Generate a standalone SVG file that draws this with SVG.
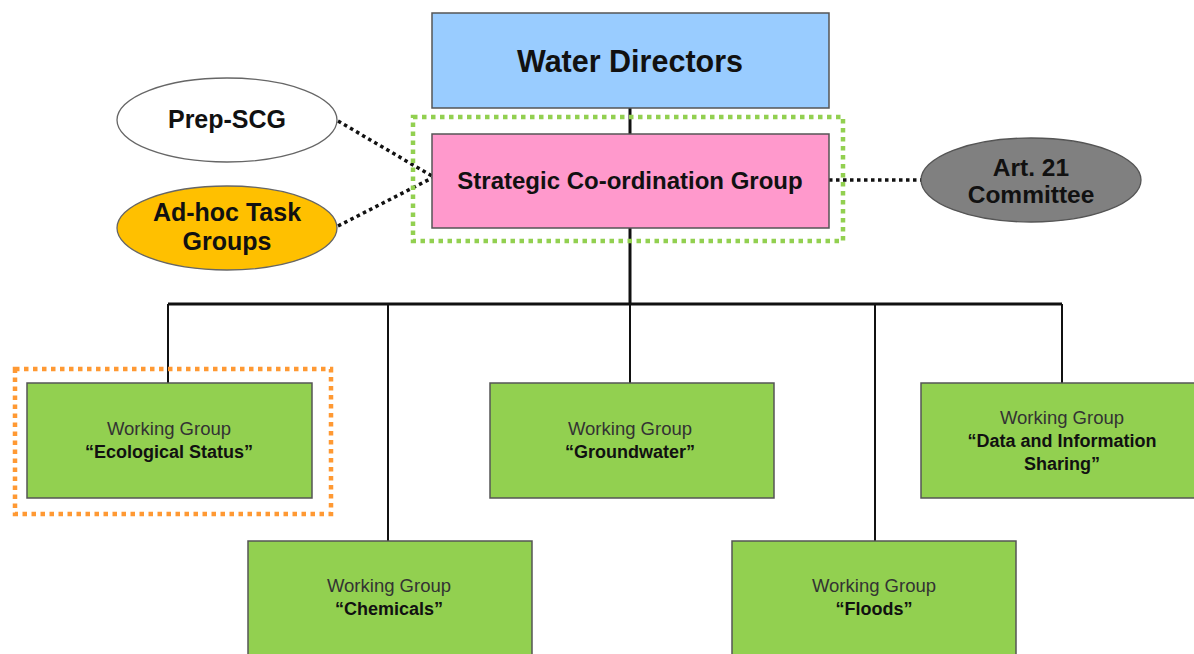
<svg xmlns="http://www.w3.org/2000/svg" width="1194" height="654" viewBox="0 0 1194 654">
<style>
.box{stroke:#555;stroke-width:1.5}
.wg{fill:#92D050;stroke:#555;stroke-width:1.5}
.t{font-family:"Liberation Sans",Arial,sans-serif;text-anchor:middle;fill:#111}
.b{font-weight:bold}
.wgl{font-size:18.5px;fill:#333}
.wgn{font-size:18px;font-weight:bold;fill:#111}
.line{stroke:#111;fill:none}
.dot{stroke:#111;stroke-width:3.5;stroke-dasharray:3.5 3.5;fill:none}
</style>
<rect width="1194" height="654" fill="#fff"/>
<g id="connectors">
<line class="line" x1="630" y1="108" x2="630" y2="134" stroke-width="3"/>
<line class="line" x1="630" y1="228" x2="630" y2="304" stroke-width="3"/>
<line class="line" x1="168" y1="304" x2="1062" y2="304" stroke-width="3"/>
<line class="line" x1="168" y1="304" x2="168" y2="383" stroke-width="2"/>
<line class="line" x1="388" y1="304" x2="388" y2="541" stroke-width="2"/>
<line class="line" x1="630" y1="304" x2="630" y2="383" stroke-width="2"/>
<line class="line" x1="875" y1="304" x2="875" y2="541" stroke-width="2"/>
<line class="line" x1="1062" y1="304" x2="1062" y2="383" stroke-width="2"/>
<line class="dot" x1="338" y1="121" x2="432" y2="176"/>
<line class="dot" x1="338" y1="226" x2="432" y2="178"/>
<line class="dot" x1="829" y1="180" x2="921" y2="180"/>
</g>
<g id="water-directors">
<rect class="box" x="432" y="13" width="397" height="95" fill="#99CCFF"/>
<text class="t b" x="630" y="72" font-size="30.5">Water Directors</text>
</g>
<g id="scg">
<rect class="box" x="432" y="134" width="397" height="94" fill="#FF99CC"/>
<text class="t b" x="630" y="189" font-size="24">Strategic Co-ordination Group</text>
</g>
<g id="scg-highlight">
<rect x="413" y="117" width="430" height="124" fill="none" stroke="#92D050" stroke-width="4.5" stroke-dasharray="4.5 4.5"/>
</g>
<g id="prep-scg">
<ellipse cx="227" cy="120" rx="110" ry="42" fill="#fff" stroke="#666" stroke-width="1.3"/>
<text class="t b" x="227" y="128" font-size="25">Prep-SCG</text>
</g>
<g id="adhoc">
<ellipse cx="227" cy="228" rx="110" ry="42" fill="#FFC000" stroke="#666" stroke-width="1.3"/>
<text class="t b" x="227" y="221" font-size="25">Ad-hoc Task</text>
<text class="t b" x="227" y="250" font-size="25">Groups</text>
</g>
<g id="art21">
<ellipse cx="1031" cy="180" rx="110" ry="42" fill="#808080" stroke="#555" stroke-width="1.3"/>
<text class="t b" x="1031" y="176" font-size="24.5">Art. 21</text>
<text class="t b" x="1031" y="203" font-size="24.5">Committee</text>
</g>
<g id="wg-ecological">
<rect class="wg" x="27" y="383" width="285" height="115"/>
<text class="t wgl" x="169" y="435">Working Group</text>
<text class="t wgn" x="169" y="458">“Ecological Status”</text>
</g>
<g id="eco-highlight">
<rect x="15" y="369" width="316" height="145" fill="none" stroke="#FF9933" stroke-width="4.5" stroke-dasharray="4.5 4.5"/>
</g>
<g id="wg-groundwater">
<rect class="wg" x="490" y="383" width="284" height="115"/>
<text class="t wgl" x="630" y="435">Working Group</text>
<text class="t wgn" x="630" y="458">“Groundwater”</text>
</g>
<g id="wg-data">
<rect class="wg" x="921" y="383" width="284" height="115"/>
<text class="t wgl" x="1062" y="424">Working Group</text>
<text class="t wgn" x="1062" y="447">“Data and Information</text>
<text class="t wgn" x="1062" y="470">Sharing”</text>
</g>
<g id="wg-chemicals">
<rect class="wg" x="248" y="541" width="284" height="125"/>
<text class="t wgl" x="389" y="592">Working Group</text>
<text class="t wgn" x="389" y="615">“Chemicals”</text>
</g>
<g id="wg-floods">
<rect class="wg" x="732" y="541" width="284" height="125"/>
<text class="t wgl" x="874" y="592">Working Group</text>
<text class="t wgn" x="874" y="615">“Floods”</text>
</g>
</svg>
